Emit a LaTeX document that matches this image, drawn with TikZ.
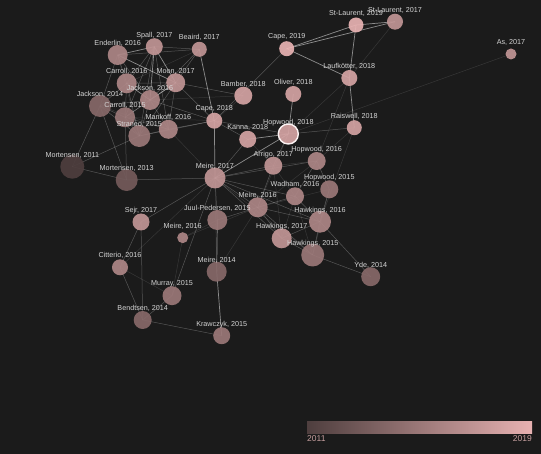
\documentclass[tikz,border=0pt]{standalone}
\usepackage{fontspec}
\newfontfamily\labfont{Liberation Sans}
\definecolor{bgc}{RGB}{27,27,27}
\definecolor{c11}{RGB}{78,62,62}
\definecolor{c19}{RGB}{232,178,178}
\colorlet{c13}{c19!25!c11}
\colorlet{c14}{c19!37!c11}
\colorlet{c15}{c19!50!c11}
\colorlet{c16}{c19!62!c11}
\colorlet{c17}{c19!75!c11}
\colorlet{c18}{c19!87!c11}
\definecolor{labc}{RGB}{212,212,212}
\definecolor{barlab}{RGB}{200,160,160}
\pgfdeclarelayer{back}
\pgfdeclarelayer{bg}
\pgfdeclarelayer{fg}
\pgfsetlayers{back,bg,main,fg}
\tikzset{
  pubnode/.style={circle, inner sep=0pt, draw=none, fill opacity=0.92},
  lab/.style={inner sep=0pt, text=labc, font=\labfont\fontsize{7.2}{8}\selectfont},
  eb/.style={draw=white, opacity=0.5, line width=0.7pt},
  em/.style={draw=white, opacity=0.26, line width=0.5pt},
  ef/.style={draw=white, opacity=0.12, line width=0.5pt},
}
\newcommand\pub[6]{%
  \node[pubnode, minimum size=#4*2pt, fill=#5] (#1) at (#2,#3) {};
  \begin{pgfonlayer}{fg}\node[lab] (#1-l) at ([yshift=11.5pt]#1.center) {#6};\end{pgfonlayer}
}
\begin{document}
\begin{tikzpicture}[x=1pt,y=-1pt]
\begin{pgfonlayer}{back}
\fill[bgc] (0,0) rectangle (541,454);
\end{pgfonlayer}
\useasboundingbox (0,0) rectangle (541,454);
% nodes
\pub{end16}{117.7}{55}{10}{c16}{Enderlin, 2016}
\pub{spa17}{154.3}{46.7}{8.5}{c17}{Spall, 2017}
\pub{bea17}{199.3}{49.3}{7.5}{c17}{Beaird, 2017}
\pub{car16}{126.7}{83.3}{10}{c16}{Carroll, 2016}
\pub{moo17}{175.7}{82.7}{9.5}{c17}{Moon, 2017}
\pub{jac14}{100}{106}{11}{c14}{Jackson, 2014}
\pub{jac16}{150}{100}{10}{c16}{Jackson, 2016}
\pub{car15}{125}{117.3}{10}{c15}{Carroll, 2015}
\pub{man16}{168.3}{129.3}{9.5}{c16}{Mankoff, 2016}
\pub{str15}{139.3}{136}{11}{c15}{Straneo, 2015}
\pub{cap18}{214.3}{120.7}{8}{c18}{Cape, 2018}
\pub{bam18}{243.3}{95.7}{9}{c18}{Bamber, 2018}
\pub{cap19}{286.7}{48.7}{7.5}{c19}{Cape, 2019}
\pub{oli18}{293.3}{94}{8}{c18}{Oliver, 2018}
\pub{kan18}{247.7}{139.3}{8.5}{c18}{Kanna, 2018}
\pub{hop18}{288.3}{134}{10}{c18}{Hopwood, 2018}
\pub{stl19}{356}{25}{7.5}{c19}{St-Laurent, 2019}
\pub{stl17}{395}{21.7}{8}{c17}{St-Laurent, 2017}
\pub{lau18}{349.3}{78}{8}{c18}{Laufkötter, 2018}
\pub{rai18}{354.3}{127.7}{7.5}{c18}{Raiswell, 2018}
\pub{as17}{511}{54}{5.5}{c17}{As, 2017}
\pub{mor11}{72.3}{166.7}{12}{c11}{Mortensen, 2011}
\pub{mor13}{126.7}{180}{11}{c13}{Mortensen, 2013}
\pub{mei17}{215}{178}{10.5}{c17}{Meire, 2017}
\pub{arr17}{273.3}{165.7}{9}{c17}{Arrigo, 2017}
\pub{hop16}{316.7}{161}{9}{c16}{Hopwood, 2016}
\pub{hop15}{329.3}{189.3}{9}{c15}{Hopwood, 2015}
\pub{wad16}{295}{196.3}{9}{c16}{Wadham, 2016}
\pub{mei16}{257.7}{207.3}{10}{c16}{Meire, 2016}
\pub{juu15}{217.3}{220}{10}{c15}{Juul-Pedersen, 2015}
\pub{haw16}{320}{221.7}{11}{c16}{Hawkings, 2016}
\pub{haw17}{281.7}{238.3}{10}{c17}{Hawkings, 2017}
\pub{haw15}{312.7}{255}{11.5}{c15}{Hawkings, 2015}
\pub{yde14}{370.7}{276.7}{9.5}{c14}{Yde, 2014}
\pub{sej17}{141}{222}{8.5}{c17}{Sejr, 2017}
\pub{meib}{182.7}{237.7}{5.5}{c16}{Meire, 2016}
\pub{cit16}{120}{267.3}{8}{c16}{Citterio, 2016}
\pub{mei14}{216.7}{271.7}{10}{c14}{Meire, 2014}
\pub{mur15}{172}{295.7}{9.5}{c15}{Murray, 2015}
\pub{ben14}{142.7}{320}{9}{c14}{Bendtsen, 2014}
\pub{kra15}{221.7}{335.7}{8.5}{c15}{Krawczyk, 2015}
\draw[draw=white!85!c19, line width=1.4pt] (hop18) circle (10pt);
% edges
\begin{pgfonlayer}{bg}
\foreach \a/\b in {stl19/stl17, cap19/stl19, cap19/stl17, cap19/lau18, stl19/lau18, lau18/rai18,
  end16/moo17, end16/spa17, spa17/jac16, spa17/moo17, bea17/cap18, car16/jac16, moo17/jac16,
  cap18/mei17, mei14/kra15, juu15/mei14, hop18/mei17, hop18/kan18, hop18/oli18}
  \draw[eb] (\a.center) -- (\b.center);
\foreach \a/\b in {end16/jac16, end16/car16, end16/jac14, spa17/car16, spa17/car15, spa17/str15,
  spa17/man16, spa17/bea17, bea17/moo17, bea17/jac16, bea17/end16, car16/moo17, car16/car15,
  car16/jac14, car16/str15, moo17/man16, moo17/bam18, moo17/cap18, moo17/car15, moo17/str15,
  jac14/car15, jac14/jac16, jac14/str15, jac14/mor11, jac14/mor13, jac16/car15, jac16/man16,
  jac16/str15, jac16/cap18, car15/str15, car15/man16, car15/mor13, str15/man16, str15/cap18,
  man16/cap18, str15/mor11, mor11/mor13, cap18/kan18, cap18/hop18, cap18/cap19, kan18/mei17,
  hop18/arr17, hop18/rai18, mei17/sej17, mei17/juu15, mei17/mei16, mei17/wad16, mei17/haw16,
  mei17/haw17, mei17/arr17, mei17/hop16, mei17/mur15, arr17/mei16, hop16/hop15, hop16/wad16,
  wad16/mei16, wad16/haw16, mei16/juu15, mei16/haw16, mei16/haw17, mei16/haw15, haw16/haw15,
  haw16/haw17, haw16/yde14, haw15/yde14, haw17/haw15, hop15/haw16, sej17/cit16, cit16/ben14,
  ben14/mur15, ben14/kra15, sej17/ben14, mor13/mei17}
  \draw[em] (\a.center) -- (\b.center);
\foreach \a/\b in {hop18/as17, hop18/mei16, hop18/lau18, lau18/hop16, stl17/lau18, kan18/arr17,
  man16/mei17, mei17/haw15, mei17/mei14, mei17/cit16, arr17/hop16, arr17/wad16, arr17/haw17,
  hop16/mei16, wad16/haw17, wad16/haw15, mei16/meib, mei16/hop15, juu15/meib, hop15/haw15,
  rai18/haw16, rai18/hop16, cit16/mur15, jac14/man16, car15/cap18, jac16/bam18, cap18/bam18,
  end16/str15, bea17/car16, meib/mur15, mei16/mei14}
  \draw[ef] (\a.center) -- (\b.center);
\end{pgfonlayer}
% colour bar
\shade[left color=c11, right color=c19] (307,421) rectangle (532,433);
\node[inner sep=0pt, anchor=north west, text=barlab, font=\labfont\fontsize{8.5}{9}\selectfont] (y11) at (307,435.5) {2011};
\node[inner sep=0pt, anchor=north east, text=barlab, font=\labfont\fontsize{8.5}{9}\selectfont] (y19) at (532,435.5) {2019};
\end{tikzpicture}
\end{document}
